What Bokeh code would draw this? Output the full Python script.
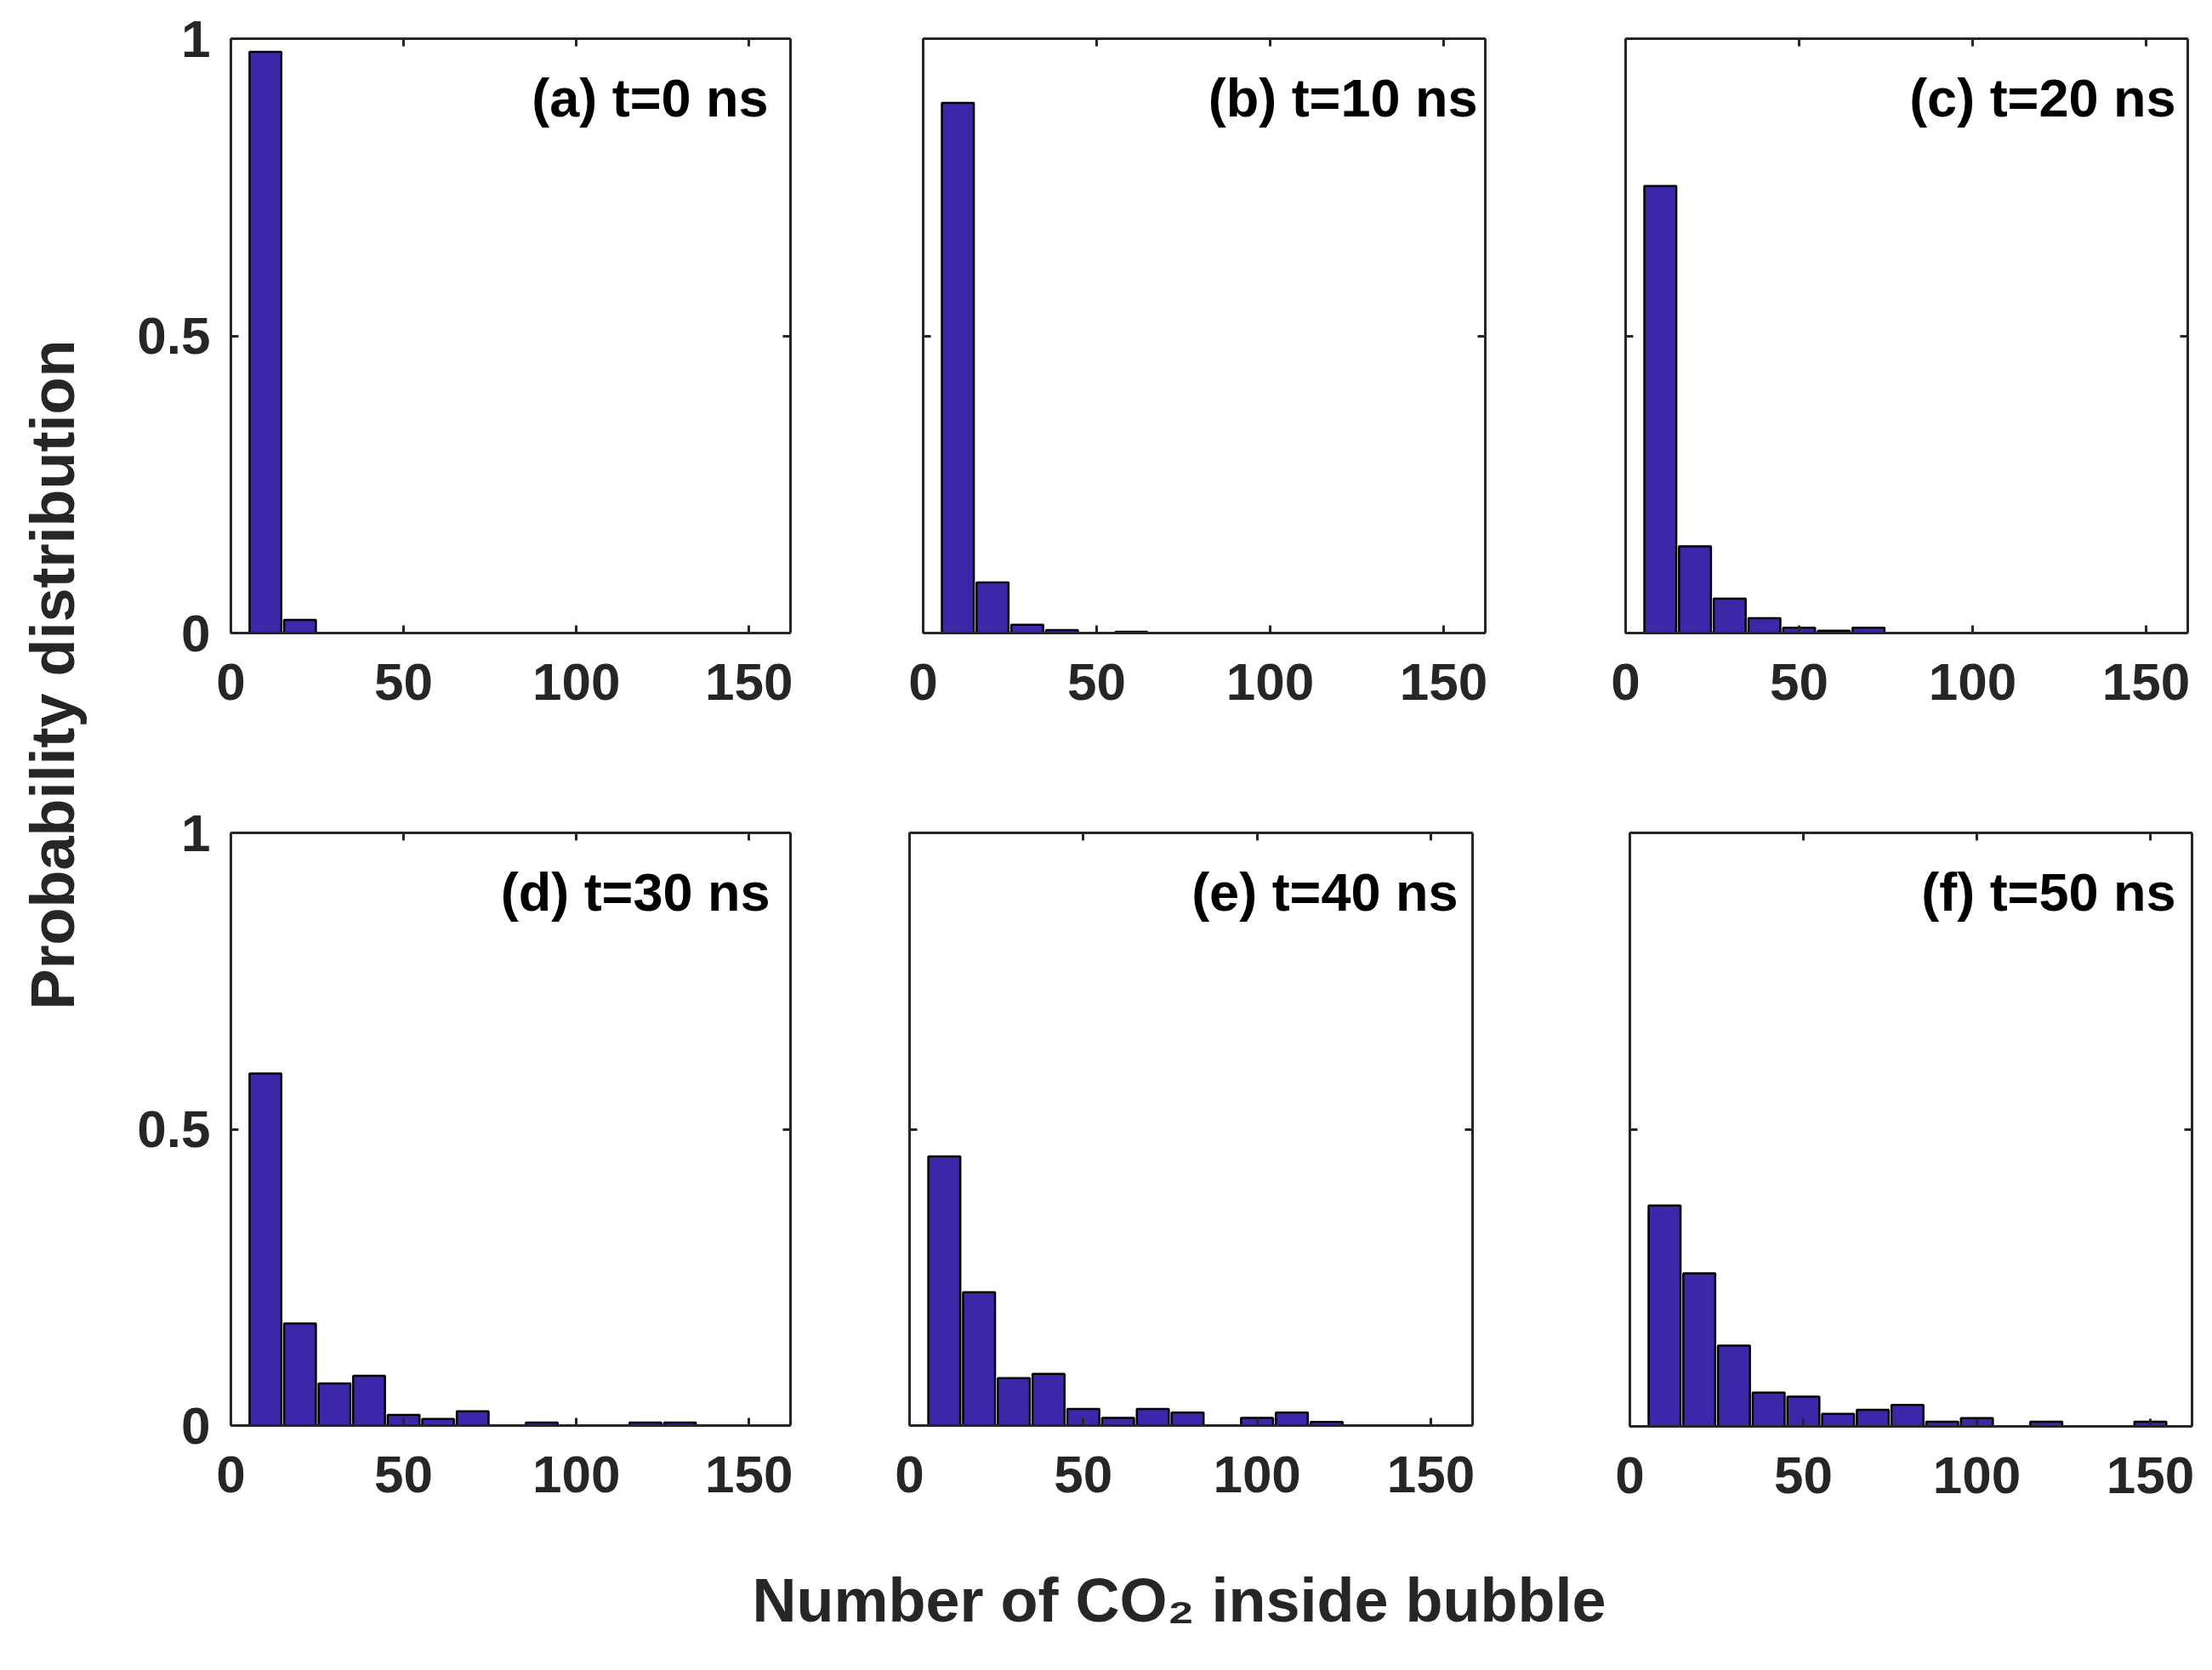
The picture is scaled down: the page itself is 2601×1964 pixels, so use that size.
import math

from bokeh.core.properties import value
from bokeh.embed import file_html
from bokeh.layouts import column, row
from bokeh.models import FixedTicker, LinearAxis, Range1d
from bokeh.plotting import figure
from bokeh.resources import INLINE

# ---------------------------------------------------------------------------
# Data: probability distribution of the number of CO2 molecules per bubble
# ---------------------------------------------------------------------------
bin_centers = [10, 20, 30, 40, 50, 60, 70, 80, 90, 100, 110, 120, 130, 140, 150]

prob_t0 = [0.978, 0.022, 0, 0, 0, 0, 0, 0, 0, 0, 0, 0, 0, 0, 0]
prob_t10 = [0.892, 0.085, 0.014, 0.005, 0, 0.002, 0, 0, 0, 0, 0, 0, 0, 0, 0]
prob_t20 = [0.752, 0.146, 0.058, 0.025, 0.009, 0.004, 0.009, 0, 0, 0, 0, 0, 0, 0, 0]
prob_t30 = [0.594, 0.172, 0.071, 0.084, 0.018, 0.011, 0.024, 0, 0.005, 0, 0, 0.005, 0.005, 0, 0]
prob_t40 = [0.454, 0.225, 0.080, 0.087, 0.028, 0.013, 0.028, 0.022, 0, 0.013, 0.022, 0.006, 0, 0, 0]
prob_t50 = [0.372, 0.258, 0.136, 0.057, 0.050, 0.021, 0.028, 0.036, 0.008, 0.014, 0, 0.008, 0, 0, 0.008]

panel_labels = ["(a) t=0 ns", "(b) t=10 ns", "(c) t=20 ns",
                "(d) t=30 ns", "(e) t=40 ns", "(f) t=50 ns"]

x_ticks = [0, 50, 100, 150]
y_ticks = [0, 0.5, 1]
y_tick_labels = ["0", "0.5", "1"]

x_title = "Number of CO\u2082 inside bubble"
y_title = "Probability distribution"

# ---------------------------------------------------------------------------
# Style
# ---------------------------------------------------------------------------
X_MAX = 162
BAR_WIDTH = 9.2
FONT = "Liberation Sans"
AXIS_COLOR = "#262626"
BAR_COLOR = "#3E26A8"
TICK_FONT_SIZE = "62px"
LABEL_FONT_SIZE = "63px"
TITLE_FONT_SIZE = "72px"
TICK_LEN = 9
LINE_W = 3
LABEL_Y = 0.90


def style_axis(ax, ticks, labels=None, standoff=20):
    ax.ticker = FixedTicker(ticks=ticks)
    ax.major_tick_in = TICK_LEN
    ax.major_tick_out = 0
    ax.minor_tick_in = 0
    ax.minor_tick_out = 0
    ax.axis_line_color = AXIS_COLOR
    ax.axis_line_width = LINE_W
    ax.major_tick_line_color = AXIS_COLOR
    ax.major_tick_line_width = LINE_W
    ax.major_label_text_font = FONT
    ax.major_label_text_font_style = "bold"
    ax.major_label_text_font_size = TICK_FONT_SIZE
    ax.major_label_text_color = AXIS_COLOR
    ax.major_label_standoff = standoff
    if labels is None:
        ax.major_label_overrides = {t: "" for t in ticks}
    else:
        ax.major_label_overrides = dict(zip(ticks, labels))


def make_panel(values, label, show_y_labels, frame_w, frame_h, borders, label_pad_px):
    left, right, top, bottom = borders
    p = figure(
        frame_width=frame_w, frame_height=frame_h,
        min_border_left=left, min_border_right=right,
        min_border_top=top, min_border_bottom=bottom,
        x_range=Range1d(0, X_MAX), y_range=Range1d(0, 1),
        output_backend="svg", toolbar_location=None,
        background_fill_color="white", border_fill_color="white",
    )
    p.outline_line_color = None
    p.grid.visible = False

    style_axis(p.below[0], x_ticks, [str(t) for t in x_ticks], standoff=36)
    style_axis(p.left[0], y_ticks, y_tick_labels if show_y_labels else None, standoff=24)

    top_axis = LinearAxis()
    style_axis(top_axis, x_ticks, None, standoff=0)
    p.add_layout(top_axis, "above")
    right_axis = LinearAxis()
    style_axis(right_axis, y_ticks, None, standoff=0)
    p.add_layout(right_axis, "right")

    p.vbar(x=bin_centers, top=values, bottom=0, width=BAR_WIDTH,
           fill_color=BAR_COLOR, line_color="black", line_width=2.5)

    label_x = X_MAX * (1 - label_pad_px / frame_w)
    p.text(x=[label_x], y=[LABEL_Y], text=[label],
           text_align="right", text_baseline="alphabetic",
           text_font=value(FONT), text_font_style="bold",
           text_font_size=LABEL_FONT_SIZE, text_color="black")
    return p


# frame sizes, borders (left, right, top, bottom) and label padding per panel
pa = make_panel(prob_t0, panel_labels[0], True, 658, 699, (131, 71, 40, 141), 26)
pb = make_panel(prob_t10, panel_labels[1], False, 661, 699, (85, 94, 40, 141), 9)
pc = make_panel(prob_t20, panel_labels[2], False, 661, 699, (71, 29, 45, 136), 14)
pd = make_panel(prob_t30, panel_labels[3], True, 658, 697, (131, 71, 95, 128), 24)
pe = make_panel(prob_t40, panel_labels[4], False, 662, 697, (69, 109, 95, 128), 17)
pf = make_panel(prob_t50, panel_labels[5], False, 661, 698, (76, 24, 99, 123), 19)


def title_figure(w, h):
    p = figure(frame_width=w, frame_height=h, min_border=0,
               x_range=Range1d(0, w), y_range=Range1d(h, 0),
               x_axis_location=None, y_axis_location=None,
               output_backend="svg", toolbar_location=None,
               background_fill_color="white", border_fill_color="white")
    p.outline_line_color = None
    p.grid.visible = False
    return p


# shared y-axis title on the left
ytf = title_figure(140, 1800)
ytf.text(x=[61], y=[793], text=[y_title], angle=math.pi / 2,
         text_align="center", text_baseline="alphabetic",
         text_font=value(FONT), text_font_style="bold",
         text_font_size="72px", text_color=AXIS_COLOR)

# shared x-axis title at the bottom
xtf = title_figure(2601, 164)
xtf.text(x=[1386], y=[81], text=[x_title],
         text_align="center", text_baseline="alphabetic",
         text_font=value(FONT), text_font_style="bold",
         text_font_size=TITLE_FONT_SIZE, text_color=AXIS_COLOR)

grid = column(row(pa, pb, pc), row(pd, pe, pf))
page = column(row(ytf, grid), xtf)

open("out.html", "w").write(file_html(page, INLINE))
